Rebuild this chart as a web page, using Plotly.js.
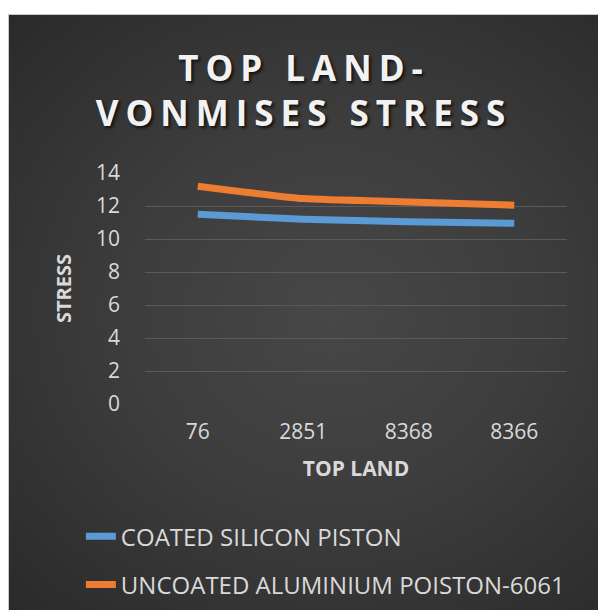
<!DOCTYPE html>
<html>
<head>
<meta charset="utf-8">
<script src="https://cdn.plot.ly/plotly-3.0.1.min.js"></script>
<style>
  html, body { margin: 0; padding: 0; background: #ffffff; }
  #chart {
    position: absolute; left: 8px; top: 14px; width: 590px; height: 596px;
    background: radial-gradient(ellipse at 55% 50%, #474747 0%, #3d3d3d 45%, #2a2a2a 100%);
    border-top: 1px solid #c8c8c8; border-left: 1px solid #c8c8c8; box-sizing: border-box;
  }
  #chart .gtitle { letter-spacing: 7px; }
</style>
</head>
<body>
<div id="chart"></div>
<script>
const categories = ['76', '2851', '8368', '8366'];
const coatedSilicon = [11.5, 11.2, 11.05, 10.95];
const uncoatedAluminium = [13.2, 12.45, 12.25, 12.05];
const seriesNames = ['COATED SILICON PISTON', 'UNCOATED ALUMINIUM POISTON-6061'];
const yTicks = [0, 2, 4, 6, 8, 10, 12, 14];

const font = 'Open Sans, DejaVu Sans, sans-serif';
const traces = [
  { x: categories, y: coatedSilicon, name: seriesNames[0], legendgroup: 'a',
    type: 'scatter', mode: 'lines',
    line: { color: '#5b9bd5', width: 7, shape: 'spline', smoothing: 0.5 } },
  { x: categories, y: uncoatedAluminium, name: seriesNames[1], legendgroup: 'b',
    type: 'scatter', mode: 'lines',
    line: { color: '#ed7d31', width: 7, shape: 'spline', smoothing: 0.5 } }
];

const layout = {
  width: 590, height: 596,
  margin: { l: 136, r: 32, t: 158, b: 207, autoexpand: false },
  paper_bgcolor: 'rgba(0,0,0,0)', plot_bgcolor: 'rgba(0,0,0,0)',
  title: {
    text: 'TOP LAND-<br>VONMISES STRESS',
    font: { family: font, size: 35, color: '#f2f2f2', weight: 'bold', shadow: '2px 2px 3px #111' },
    xref: 'container', x: 0.5, xanchor: 'center',
    yref: 'container', y: 0.89, yanchor: 'top'
  },
  showlegend: true,
  legend: {
    x: -0.152, xanchor: 'left', y: -0.477, yanchor: 'top',
    font: { family: font, size: 24, color: '#d9d9d9' },
    bgcolor: 'rgba(0,0,0,0)', tracegroupgap: 14
  },
  xaxis: {
    type: 'category', range: [-0.5, 3.5], showgrid: false, zeroline: false, showline: false, ticks: '',
    tickfont: { family: font, size: 21, color: '#d9d9d9' },
    ticklabelstandoff: 13,
    title: { text: 'TOP LAND', font: { family: font, size: 21, color: '#d9d9d9', weight: 'bold' }, standoff: 17 }
  },
  yaxis: {
    range: [0, 14], tickvals: yTicks, showgrid: true, gridcolor: '#5a5a5a', gridwidth: 1,
    zeroline: false, showline: false, ticks: '',
    tickfont: { family: font, size: 21, color: '#d9d9d9' },
    ticklabelstandoff: 24,
    title: { text: 'STRESS', font: { family: font, size: 20, color: '#d9d9d9', weight: 'bold' }, standoff: 18 }
  }
};

Plotly.newPlot('chart', traces, layout, { displayModeBar: false, staticPlot: true });
</script>
</body>
</html>
